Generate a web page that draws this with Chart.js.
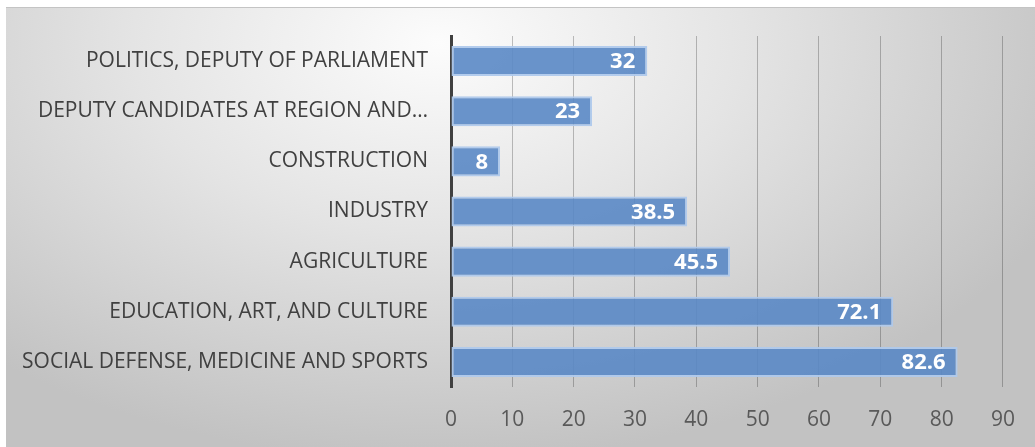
<!DOCTYPE html>
<html>
<head>
<meta charset="utf-8">
<script src="https://cdn.jsdelivr.net/npm/chart.js@4"></script>
<style>
    html, body { margin: 0; padding: 0; background: #fff; }
    #panel {
        position: absolute; left: 6px; top: 7px; width: 1029px; height: 440px;
        border-top: 1px solid #c4c4c4;
        background: radial-gradient(ellipse 66% 95% at 42% 8%, #fcfcfc 0%, #e4e4e4 45%, #c2c2c2 100%);
    }
    #wrap { position: absolute; left: 0; top: 0; width: 1029px; height: 439px; }
</style>
</head>
<body>
<div id="panel"><div id="wrap"><canvas id="barChart"></canvas></div></div>
<script>
// data
const categories = [
    'POLITICS, DEPUTY OF PARLIAMENT',
    'DEPUTY CANDIDATES AT REGION AND…',
    'CONSTRUCTION',
    'INDUSTRY',
    'AGRICULTURE',
    'EDUCATION, ART, AND CULTURE',
    'SOCIAL DEFENSE, MEDICINE AND SPORTS'
];
const values = [32, 23, 8, 38.5, 45.5, 72.1, 82.6];
const xTicks = [0, 10, 20, 30, 40, 50, 60, 70, 80, 90];

const fontFamily = "'Open Sans', 'DejaVu Sans', sans-serif";

// draws the value at the end of each bar, inside
const valueLabels = {
    id: 'valueLabels',
    afterDatasetsDraw(chart) {
        const ctx = chart.ctx;
        const meta = chart.getDatasetMeta(0);
        ctx.save();
        ctx.font = 'bold 22px ' + fontFamily;
        ctx.fillStyle = '#ffffff';
        ctx.textAlign = 'right';
        ctx.textBaseline = 'middle';
        meta.data.forEach(function (bar, i) {
            ctx.fillText(String(values[i]), bar.x - 12, bar.y + 1);
        });
        ctx.restore();
    }
};

let ctx = document.getElementById('barChart').getContext('2d');

window.barChart = new Chart(ctx, {
    type: 'bar',
    data: {
        labels: categories,
        datasets: [{
            data: values,
            backgroundColor: 'rgba(90,136,197,0.9)',
            borderColor: 'rgba(175,201,236,0.95)',
            borderWidth: 2,
            borderSkipped: false,
            barPercentage: 0.6,
            categoryPercentage: 1.0
        }]
    },
    options: {
        indexAxis: 'y',
        responsive: true,
        maintainAspectRatio: false,
        animation: false,
        layout: { padding: { left: 0, right: 32, top: 28, bottom: 15 } },
        plugins: {
            legend: { display: false },
            tooltip: { enabled: false }
        },
        scales: {
            x: {
                min: 0,
                max: 90,
                afterBuildTicks: function (scale) {
                    scale.ticks = xTicks.map(function (v) { return { value: v }; });
                },
                afterFit: function (scale) { scale.height = 45; },
                grid: { color: 'rgba(0,0,0,0.24)', lineWidth: 1, drawTicks: false },
                border: { display: false },
                ticks: {
                    color: '#595959',
                    padding: 20,
                    font: { family: fontFamily, size: 21 }
                }
            },
            y: {
                afterFit: function (scale) {
                    scale.width = 445;
                    scale.paddingTop = 0;
                    scale.paddingBottom = 0;
                },
                grid: { display: false, drawTicks: false },
                border: { color: '#404040', width: 3 },
                ticks: {
                    color: '#404040',
                    padding: 23,
                    font: { family: fontFamily, size: 21 }
                }
            }
        }
    },
    plugins: [valueLabels]
});
</script>
</body>
</html>
